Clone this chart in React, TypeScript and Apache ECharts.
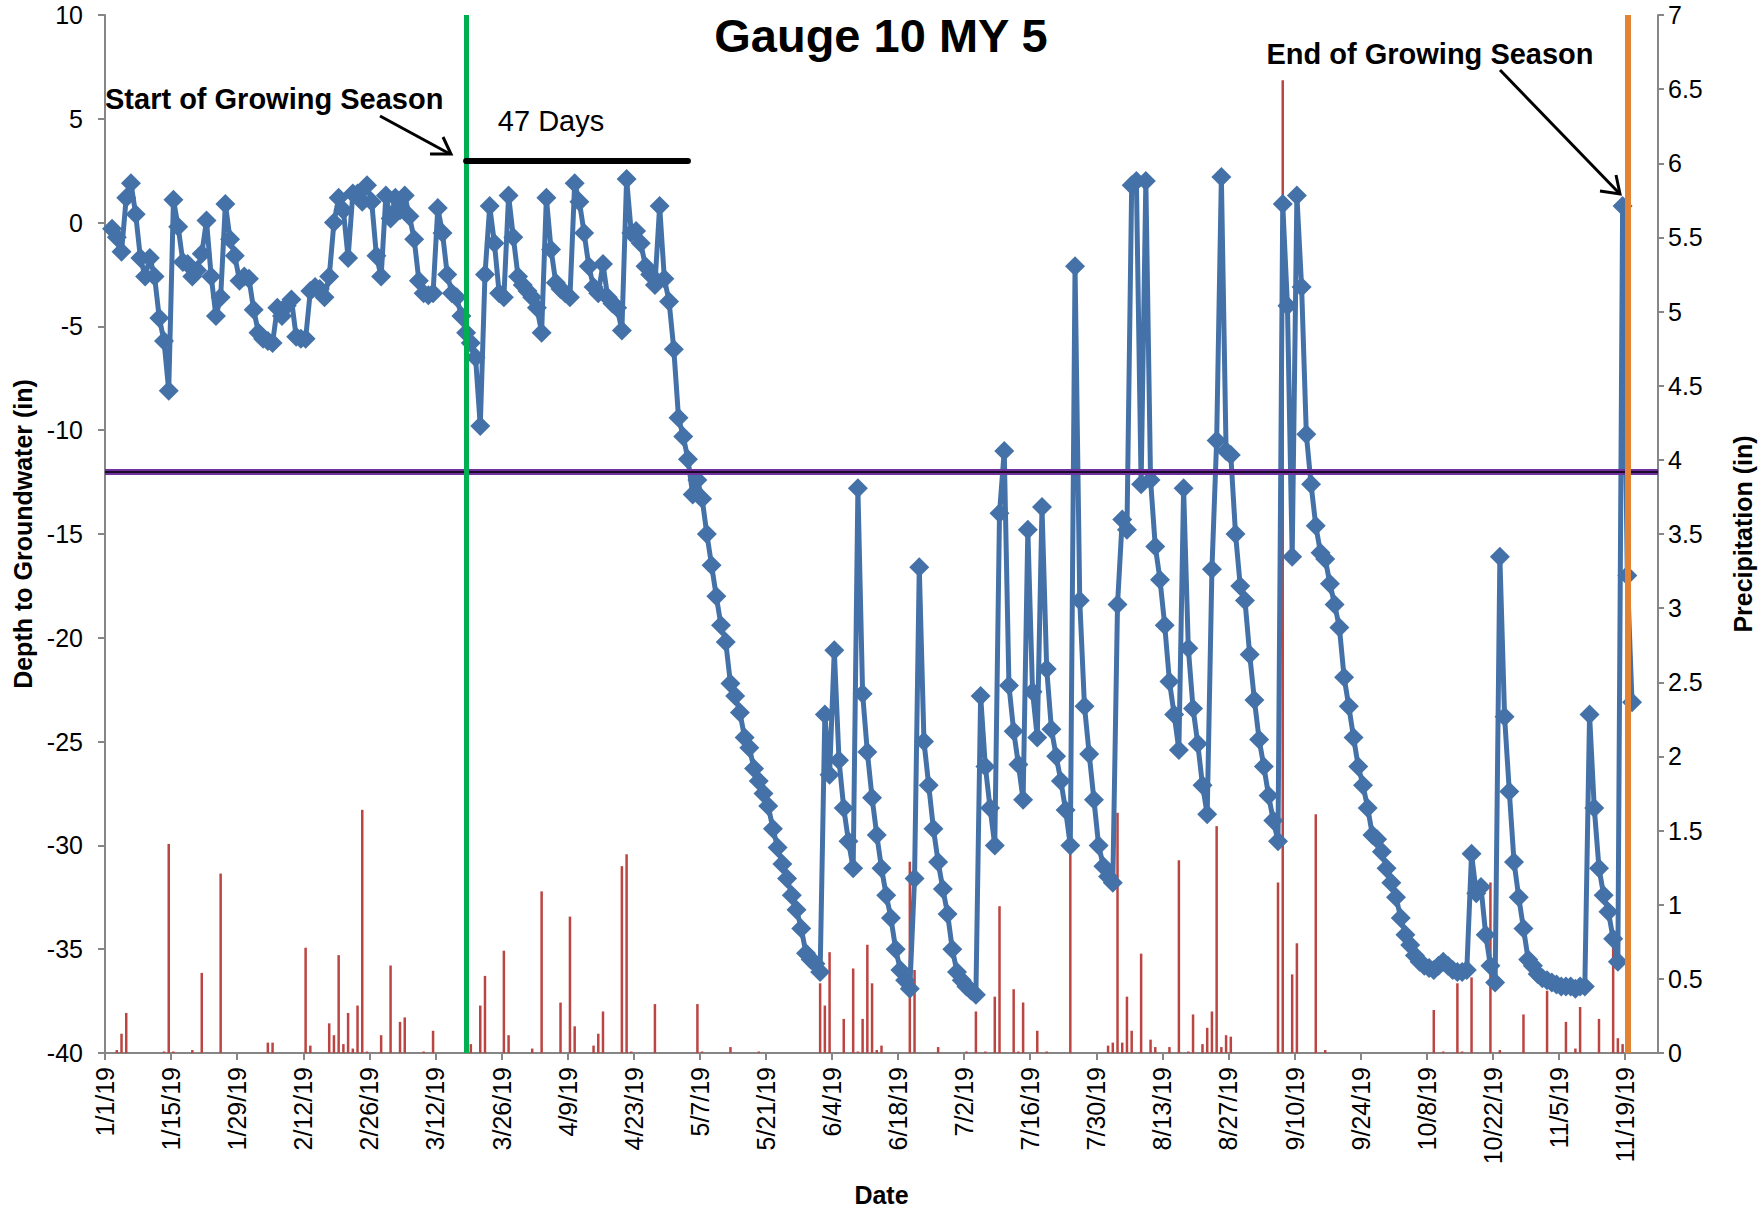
import React, { useEffect, useRef } from 'react';
import * as echarts from 'echarts';

// x tick labels (every 14 days from 1/1/19)
const dateTickLabels = ['1/1/19', '1/15/19', '1/29/19', '2/12/19', '2/26/19', '3/12/19', '3/26/19', '4/9/19', '4/23/19', '5/7/19', '5/21/19', '6/4/19', '6/18/19', '7/2/19', '7/16/19', '7/30/19', '8/13/19', '8/27/19', '9/10/19', '9/24/19', '10/8/19', '10/22/19', '11/5/19', '11/19/19'];

// daily depth to groundwater (in), first value = 1/2/19 (day index 1)
const depthFirstDay = 1;
const depthToGroundwater = [
  -0.3, -0.7, -1.4, 1.2, 1.9, 0.4, -1.7, -2.6, -1.7, -2.6,
  -4.6, -5.7, -8.1, 1.1, -0.2, -1.9, -2.0, -2.6, -2.3, -1.5,
  0.1, -2.6, -4.5, -3.6, 0.9, -0.8, -1.6, -2.8, -2.6, -2.7,
  -4.2, -5.3, -5.6, -5.7, -5.8, -4.1, -4.5, -4.0, -3.7, -5.5,
  -5.6, -5.6, -3.3, -3.1, -3.2, -3.6, -2.6, 0.0, 1.2, 0.6,
  -1.7, 1.4, 1.4, 1.0, 1.8, 1.0, -1.6, -2.6, 1.3, 0.2,
  1.2, 0.6, 1.3, 0.3, -0.8, -2.8, -3.4, -3.5, -3.4, 0.7,
  -0.5, -2.5, -3.4, -3.6, -4.5, -5.3, -5.8, -6.5, -9.8, -2.5,
  0.8, -1.0, -3.4, -3.6, 1.3, -0.7, -2.6, -3.0, -3.3, -3.6,
  -4.1, -5.3, 1.2, -1.3, -2.9, -3.2, -3.4, -3.6, 1.9, 1.0,
  -0.5, -2.1, -3.1, -3.4, -2.0, -3.6, -3.9, -4.1, -5.2, 2.1,
  -0.5, -0.4, -1.0, -2.1, -2.5, -3.0, 0.8, -2.7, -3.8, -6.1,
  -9.4, -10.3, -11.4, -13.1, -12.4, -13.3, -15.0, -16.5, -18.0, -19.4,
  -20.2, -22.2, -22.8, -23.6, -24.8, -25.3, -26.3, -26.9, -27.5, -28.1,
  -29.2, -30.1, -30.9, -31.6, -32.4, -33.1, -34.0, -35.2, -35.5, -35.7,
  -36.1, -23.7, -26.6, -20.6, -25.9, -28.2, -29.8, -31.1, -12.8, -22.7,
  -25.5, -27.7, -29.5, -31.1, -32.4, -33.5, -35.0, -36.0, -36.5, -36.9,
  -31.6, -16.6, -25.0, -27.1, -29.2, -30.8, -32.1, -33.3, -35.0, -36.1,
  -36.5, -36.8, -37.0, -37.2, -22.8, -26.2, -28.2, -30.0, -14.0, -11.0,
  -22.3, -24.5, -26.1, -27.8, -14.8, -22.6, -24.8, -13.7, -21.5, -24.4,
  -25.7, -26.9, -28.3, -30.0, -2.1, -18.2, -23.3, -25.6, -27.8, -30.0,
  -31.0, -31.5, -31.8, -18.4, -14.3, -14.8, 1.8, 2.0, -12.6, 2.0,
  -12.4, -15.6, -17.2, -19.4, -22.1, -23.7, -25.4, -12.8, -20.5, -23.4,
  -25.1, -27.1, -28.5, -16.7, -10.5, 2.2, -11.0, -11.2, -15.0, -17.5,
  -18.2, -20.8, -23.0, -24.9, -26.2, -27.6, -28.8, -29.8, 0.9, -4.0,
  -16.1, 1.3, -3.1, -10.2, -12.6, -14.6, -15.9, -16.2, -17.4, -18.4,
  -19.5, -21.9, -23.3, -24.8, -26.2, -27.1, -28.2, -29.5, -29.7, -30.3,
  -31.1, -31.8, -32.5, -33.5, -34.3, -34.8, -35.3, -35.6, -35.8, -35.9,
  -36.0, -35.8, -35.6, -35.8, -36.0, -36.1, -36.1, -36.0, -30.4, -32.3,
  -32.0, -34.3, -35.8, -36.6, -16.1, -23.8, -27.4, -30.8, -32.5, -34.0,
  -35.5, -35.8, -36.2, -36.4, -36.5, -36.6, -36.7, -36.8, -36.8, -36.8,
  -36.9, -36.8, -36.8, -23.7, -28.2, -31.1, -32.4, -33.2, -34.5, -35.6,
  0.8, -17.0, -23.1,
];

// daily precipitation (in): day index since 1/1/19 and amount
const precipDays = [2, 3, 4, 12, 13, 14, 18, 20, 24, 34, 35, 42, 43, 47, 48, 49, 50, 51, 52, 53, 54, 55, 58, 60, 62, 63, 67, 69, 77, 79, 80, 84, 85, 90, 92, 96, 98, 99, 103, 104, 105, 109, 110, 111, 116, 125, 126, 132, 138, 151, 152, 153, 156, 158, 159, 160, 161, 162, 163, 164, 170, 171, 176, 182, 184, 186, 188, 189, 192, 193, 194, 197, 199, 204, 212, 213, 214, 215, 216, 217, 219, 221, 222, 225, 227, 229, 230, 232, 233, 234, 235, 236, 237, 238, 248, 249, 251, 252, 256, 258, 281, 283, 286, 287, 289, 293, 295, 300, 305, 309, 311, 312, 316, 319, 320, 321];
const precipInches = [0.02, 0.13, 0.27, 0.01, 1.41, 0.01, 0.02, 0.54, 1.21, 0.07, 0.07, 0.71, 0.05, 0.20, 0.12, 0.66, 0.06, 0.27, 0.03, 0.32, 1.64, 0.01, 0.12, 0.59, 0.21, 0.24, 0.01, 0.15, 0.06, 0.32, 0.52, 0.69, 0.12, 0.03, 1.09, 0.34, 0.92, 0.18, 0.05, 0.13, 0.28, 1.26, 1.34, 0.01, 0.33, 0.33, 0.01, 0.04, 0.01, 0.47, 0.32, 0.68, 0.23, 0.57, 0.01, 0.23, 0.73, 0.47, 0.02, 0.05, 1.29, 0.56, 0.04, 0.01, 0.28, 0.01, 0.38, 0.99, 0.43, 0.01, 0.34, 0.15, 0.01, 1.38, 0.05, 0.07, 1.62, 0.07, 0.38, 0.15, 0.67, 0.09, 0.04, 0.04, 1.30, 0.01, 0.26, 0.06, 0.17, 0.28, 1.53, 0.04, 0.12, 0.11, 1.15, 6.56, 0.53, 0.74, 1.61, 0.02, 0.29, 0.01, 0.47, 0.01, 0.51, 1.15, 0.02, 0.26, 0.42, 0.21, 0.03, 0.31, 0.23, 0.74, 0.10, 0.06];

const startOfSeasonDay = 76; // 3/18/19
const endOfSeasonDay = 322; // 11/19/19
const growingDays = 47;
const thresholdDepth = -12;
const barLevel = 3;

const FONT = 'Liberation Sans, Arial, sans-serif';
const AXIS_COLOR = '#868686';

export default function App() {
  const ref = useRef<HTMLDivElement>(null);

  useEffect(() => {
    if (!ref.current) return;
    const chart = echarts.init(ref.current, undefined, { renderer: 'svg' });

    const depthData = depthToGroundwater.map((v, i) => [depthFirstDay + i + 0.5, v]);
    const precipData = precipDays.map((d, i) => [d + 0.5, precipInches[i]]);
    const tickValues = dateTickLabels.map((_, i) => i * 14);

    const option: any = {
      animation: false,
      backgroundColor: '#ffffff',
      grid: { left: 105, right: 104, top: 15, bottom: 158.5, containLabel: false },
      xAxis: {
        type: 'value',
        min: 0,
        max: 329,
        interval: 14,
        name: 'Date',
        nameLocation: 'middle',
        nameGap: 129,
        nameTextStyle: { fontFamily: FONT, fontSize: 25, fontWeight: 'bold', color: '#000' },
        axisLine: { show: true, onZero: false, lineStyle: { color: AXIS_COLOR, width: 2 } },
        axisTick: { show: true, length: 7, lineStyle: { color: AXIS_COLOR, width: 2 }, customValues: tickValues },
        axisLabel: {
          rotate: 90,
          margin: 14,
          fontFamily: FONT,
          fontSize: 25,
          color: '#000',
          showMaxLabel: true,
          customValues: tickValues,
          formatter: (v: number) => (v % 14 === 0 ? dateTickLabels[v / 14] ?? '' : ''),
        },
        splitLine: { show: false },
      },
      yAxis: [
        {
          type: 'value',
          min: -40,
          max: 10,
          interval: 5,
          position: 'left',
          name: 'Depth to Groundwater (in)',
          nameLocation: 'middle',
          nameGap: 70,
          nameTextStyle: { fontFamily: FONT, fontSize: 25, fontWeight: 'bold', color: '#000' },
          axisLine: { show: true, onZero: false, lineStyle: { color: AXIS_COLOR, width: 2 } },
          axisTick: { show: true, length: 7, lineStyle: { color: AXIS_COLOR, width: 2 } },
          axisLabel: { margin: 22, fontFamily: FONT, fontSize: 25, color: '#000' },
          splitLine: { show: false },
        },
        {
          type: 'value',
          min: 0,
          max: 7,
          interval: 0.5,
          position: 'right',
          name: 'Precipitation (in)',
          nameLocation: 'middle',
          nameGap: 72,
          nameTextStyle: { fontFamily: FONT, fontSize: 25, fontWeight: 'bold', color: '#000' },
          axisLine: { show: true, onZero: false, lineStyle: { color: AXIS_COLOR, width: 2 } },
          axisTick: { show: true, length: 6, lineStyle: { color: AXIS_COLOR, width: 2 } },
          axisLabel: { margin: 10, fontFamily: FONT, fontSize: 25, color: '#000' },
          splitLine: { show: false },
        },
      ],
      series: [
        {
          name: 'Precipitation',
          type: 'bar',
          yAxisIndex: 1,
          data: precipData,
          barWidth: 2.5,
          itemStyle: { color: '#BB4542' },
          z: 1,
          silent: true,
        },
        {
          name: 'Depth to Groundwater',
          type: 'line',
          yAxisIndex: 0,
          data: depthData,
          symbol: 'diamond',
          symbolSize: 20,
          showSymbol: true,
          showAllSymbol: true,
          lineStyle: { color: '#4472A8', width: 5 },
          itemStyle: { color: '#4472A8' },
          z: 3,
          silent: true,
          markLine: {
            silent: true,
            symbol: ['none', 'none'],
            label: { show: false },
            data: [
              { yAxis: thresholdDepth, lineStyle: { color: '#7030A0', width: 6, type: 'solid' } },
              { yAxis: thresholdDepth, lineStyle: { color: '#000000', width: 1.5, type: 'solid' } },
              { xAxis: startOfSeasonDay + 0.5, lineStyle: { color: '#00B050', width: 5, type: 'solid' } },
              { xAxis: endOfSeasonDay + 0.5, lineStyle: { color: '#E38435', width: 6, type: 'solid' } },
              [
                { coord: [startOfSeasonDay + 0.5, barLevel], lineStyle: { color: '#000000', width: 6, type: 'solid', cap: 'round' } },
                { coord: [startOfSeasonDay + 0.5 + growingDays, barLevel] },
              ],
            ],
          },
        },
      ],
      graphic: [
        {
          type: 'text',
          x: 881,
          y: 35,
          style: { text: 'Gauge 10 MY 5', fontFamily: FONT, fontSize: 47, fontWeight: 'bold', fill: '#000', align: 'center', verticalAlign: 'middle' },
        },
        {
          type: 'text',
          x: 105,
          y: 99,
          style: { text: 'Start of Growing Season', fontFamily: FONT, fontSize: 29, fontWeight: 'bold', fill: '#000', align: 'left', verticalAlign: 'middle' },
        },
        {
          type: 'text',
          x: 1430,
          y: 54,
          style: { text: 'End of Growing Season', fontFamily: FONT, fontSize: 29, fontWeight: 'bold', fill: '#000', align: 'center', verticalAlign: 'middle' },
        },
        {
          type: 'text',
          x: 551,
          y: 121,
          style: { text: '47 Days', fontFamily: FONT, fontSize: 29, fill: '#000', align: 'center', verticalAlign: 'middle' },
        },
        {
          type: 'line',
          shape: { x1: 380, y1: 116, x2: 450, y2: 154 },
          style: { stroke: '#000', lineWidth: 3 },
          z: 10,
        },
        {
          type: 'polyline',
          shape: { points: [[430, 154], [451, 154], [443, 137]] },
          style: { stroke: '#000', lineWidth: 3, fill: 'none' },
          z: 10,
        },
        {
          type: 'line',
          shape: { x1: 1500, y1: 70, x2: 1619, y2: 193 },
          style: { stroke: '#000', lineWidth: 3 },
          z: 10,
        },
        {
          type: 'polyline',
          shape: { points: [[1600, 191], [1620, 194], [1616, 175]] },
          style: { stroke: '#000', lineWidth: 3, fill: 'none' },
          z: 10,
        },
      ],
    };

    chart.setOption(option);
    return () => chart.dispose();
  }, []);

  return (
    <div
      ref={ref}
      style={{ position: 'fixed', left: 0, top: 0, width: 1763, height: 1212, background: '#fff' }}
    />
  );
}
